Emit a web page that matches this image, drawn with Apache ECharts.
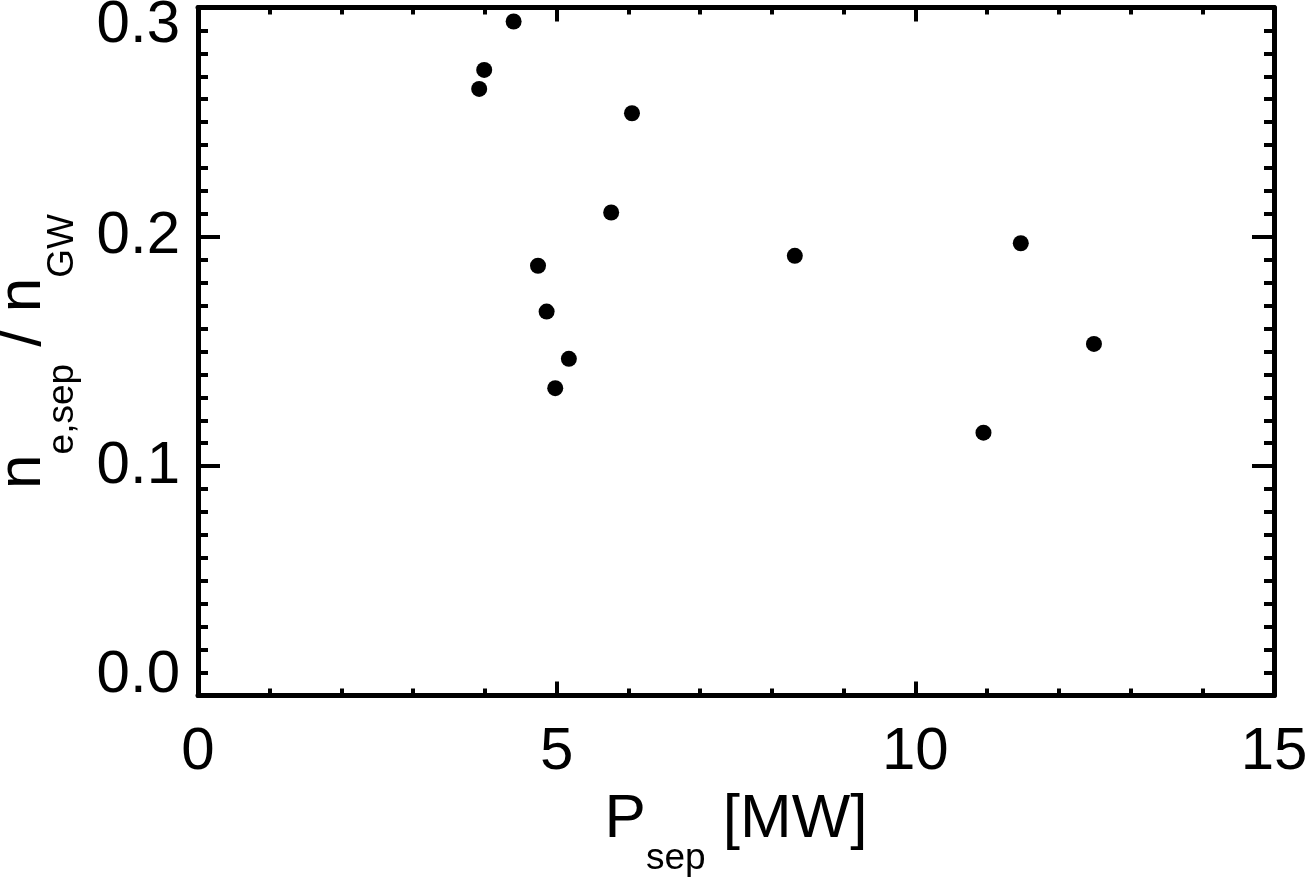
<!DOCTYPE html>
<html>
<head>
<meta charset="utf-8">
<script src="https://cdn.jsdelivr.net/npm/echarts@6/dist/echarts.min.js"></script>
<style>
  html, body { margin: 0; padding: 0; background: #fff; }
  #chart { width: 1306px; height: 879px; }
</style>
</head>
<body>
<div id="chart"></div>
<script>
// Data
const pSep = [3.92, 3.99, 4.40, 6.05, 5.76, 4.74, 4.86, 5.17, 4.98, 8.32, 11.47, 12.49, 10.95];
const nRatio = [0.2645, 0.2728, 0.2939, 0.2539, 0.2106, 0.1874, 0.1674, 0.1468, 0.1340, 0.1917, 0.1972, 0.1533, 0.1146];
const xTicks = [0, 5, 10, 15];
const yTicks = [0.0, 0.1, 0.2, 0.3];

const FONT = '"Liberation Sans", Arial, Helvetica, sans-serif';
const points = pSep.map((x, i) => [x, nRatio[i]]);

const xMin = xTicks[0], xMax = xTicks[xTicks.length - 1], xInt = xTicks[1] - xTicks[0];
const yMin = yTicks[0], yMax = yTicks[yTicks.length - 1], yInt = yTicks[1] - yTicks[0];

function xAxisCfg(pos, showLabels) {
  return {
    type: 'value', position: pos, min: xMin, max: xMax, interval: xInt,
    axisLine: { show: true, onZero: false, lineStyle: { color: '#000', width: 5 } },
    axisTick: { show: true, inside: true, length: 14, lineStyle: { color: '#000', width: 4 } },
    minorTick: { show: true, splitNumber: 5, length: 7, lineStyle: { color: '#000', width: 4 } },
    splitLine: { show: false },
    axisLabel: showLabels ? {
      show: true, margin: 27, color: '#000', fontSize: 60, fontFamily: FONT,
      formatter: v => String(Math.round(v))
    } : { show: false }
  };
}
function yAxisCfg(pos, showLabels) {
  return {
    type: 'value', position: pos, min: yMin, max: yMax, interval: yInt,
    axisLine: { show: true, onZero: false, lineStyle: { color: '#000', width: 5 } },
    axisTick: { show: true, inside: true, length: 22, lineStyle: { color: '#000', width: 4 } },
    minorTick: { show: true, splitNumber: 10, length: 10, lineStyle: { color: '#000', width: 4 } },
    splitLine: { show: false },
    axisLabel: showLabels ? {
      show: true, margin: 18, color: '#000', fontSize: 60, fontFamily: FONT,
      formatter: v => {
        const s = v.toFixed(1);
        if (Math.abs(v - yMax) < 1e-9) return '{hi|' + s + '}';
        if (Math.abs(v - yMin) < 1e-9) return '{lo|' + s + '}';
        return s;
      },
      rich: {
        hi: { fontSize: 60, fontFamily: FONT, color: '#000', padding: [35, 0, 0, 0] },
        lo: { fontSize: 60, fontFamily: FONT, color: '#000', padding: [0, 0, 40, 0] }
      }
    } : { show: false }
  };
}

const titleRich = {
  m: { fontSize: 62, fontFamily: FONT, color: '#000', lineHeight: 62, verticalAlign: 'top' },
  sub: { fontSize: 37, fontFamily: FONT, color: '#000', verticalAlign: 'top', padding: [52, 0, 0, 0] }
};

const xMain = xAxisCfg('bottom', true);
xMain.name = '{m|P}{sub|sep}{m| [MW]}';
xMain.nameLocation = 'middle';
xMain.nameGap = 93;
xMain.nameTextStyle = { rich: titleRich };

const yMain = yAxisCfg('left', true);
yMain.name = '{m|n}{sub|e,sep}{m| / n}{sub|GW}';
yMain.nameLocation = 'middle';
yMain.nameRotate = 90;
yMain.nameGap = 117;
yMain.nameTextStyle = { rich: titleRich };

const chart = echarts.init(document.getElementById('chart'), null, { renderer: 'canvas' });
chart.setOption({
  backgroundColor: '#fff',
  animation: false,
  grid: { left: 198, right: 32, top: 7.5, bottom: 183.5, containLabel: false, outerBoundsMode: 'none' },
  xAxis: [xMain, xAxisCfg('top', false)],
  yAxis: [yMain, yAxisCfg('right', false)],
  series: [{
    type: 'scatter', xAxisIndex: 0, yAxisIndex: 0,
    symbol: 'circle', symbolSize: 16,
    itemStyle: { color: '#000', opacity: 1 },
    data: points
  }]
});
</script>
</body>
</html>
